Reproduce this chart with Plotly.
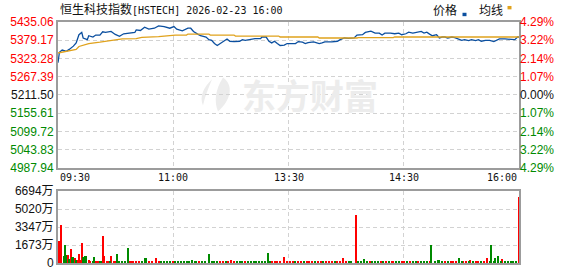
import plotly.graph_objects as go

# ---------------- data ----------------
title_name = "恒生科技指数"
title_code = "[HSTECH] 2026-02-23 16:00"
legend_price = "价格"
legend_avg = "均线"
watermark = "东方财富"

prev_close = 5211.50
price_ticks = [4987.94, 5043.83, 5099.72, 5155.61, 5211.50, 5267.39, 5323.28, 5379.17, 5435.06]
price_tick_text = ["4987.94", "5043.83", "5099.72", "5155.61", "5211.50", "5267.39", "5323.28", "5379.17", "5435.06"]
pct_tick_text = ["4.29%", "3.22%", "2.14%", "1.07%", "0.00%", "1.07%", "2.14%", "3.22%", "4.29%"]

vol_ticks = [0, 1673.5, 3347, 5020.5, 6694]
vol_tick_text = ["0", "1673万", "3347万", "5020万", "6694万"]

time_pos = [0, 82.5, 165, 247.5, 330]
time_labels = ["09:30", "11:00", "13:30", "14:30", "16:00"]

# minute index (0 = 09:30, 330 = 16:00) and index price
price_min = [0, 1, 3, 6, 8, 11, 13, 15, 17, 18, 21, 22, 25, 27, 30, 32, 34, 38, 41, 44, 47, 51, 55, 56,
             59, 62, 65, 69, 72, 76, 80, 83, 85, 89, 93, 95, 97, 100, 102, 106, 108, 110, 112, 114,
             116, 119, 121, 123, 126, 130, 132, 134, 138, 141, 145, 146, 149, 151, 153, 155, 157,
             159, 162, 164, 168, 170, 172, 175, 177, 179, 183, 187, 189, 191, 196, 200, 202, 205,
             208, 212, 214, 218, 220, 224, 227, 230, 232, 234, 238, 241, 244, 246, 249, 251, 254,
             258, 260, 262, 264, 266, 268, 271, 273, 275, 277, 279, 282, 284, 287, 289, 291, 294,
             296, 299, 301, 303, 306, 309, 312, 314, 316, 320, 324, 327, 329, 330]
price_val = [5310, 5342, 5349, 5345, 5351, 5361, 5371, 5396, 5403, 5386, 5381, 5393, 5389, 5395, 5395,
             5405, 5403, 5406, 5397, 5391, 5399, 5401, 5403, 5411, 5409, 5419, 5413, 5416, 5423, 5421,
             5416, 5421, 5413, 5408, 5416, 5416, 5406, 5398, 5393, 5389, 5381, 5379, 5369, 5363, 5369,
             5376, 5383, 5376, 5375, 5376, 5381, 5379, 5383, 5384, 5384, 5389, 5389, 5376, 5371, 5376,
             5369, 5363, 5364, 5369, 5369, 5369, 5375, 5373, 5369, 5372, 5374, 5369, 5371, 5374, 5374,
             5376, 5381, 5386, 5385, 5386, 5395, 5396, 5403, 5407, 5401, 5401, 5395, 5401, 5401, 5399,
             5401, 5396, 5399, 5404, 5401, 5404, 5406, 5401, 5404, 5398, 5393, 5396, 5386, 5389, 5389,
             5386, 5389, 5387, 5381, 5379, 5381, 5378, 5381, 5378, 5381, 5376, 5379, 5379, 5375, 5379,
             5383, 5383, 5381, 5381, 5389, 5389]

avg_min = [0, 4, 8, 13, 15, 20, 22, 30, 34, 40, 46, 56, 60, 72, 78, 84, 92, 93, 108, 109, 126, 127,
           158, 159, 186, 187, 214, 215, 240, 241, 330]
avg_val = [5340, 5343, 5347, 5351, 5360, 5366, 5369, 5373, 5376, 5380, 5383, 5384, 5388, 5390, 5392,
           5395, 5395, 5398, 5398, 5395, 5395, 5392, 5392, 5389, 5389, 5386, 5386, 5387, 5387, 5389, 5389]

# volume (万) of rising minutes (red)
up_min = [0, 1, 2, 7, 9, 12, 14, 15, 16, 17, 22, 23, 27, 28, 29, 32, 33, 35, 36, 38, 40, 41, 51, 52,
          54, 56, 58, 65, 67, 70, 72, 82, 101, 116, 118, 122, 124, 126, 134, 153, 155, 157, 159, 162,
          164, 166, 168, 172, 174, 178, 180, 182, 186, 188, 192, 194, 196, 200, 202, 204, 206, 213,
          223, 231, 235, 239, 240, 246, 248, 252, 258, 266, 277, 281, 283, 285, 290, 292, 295, 299,
          301, 305, 307, 318, 330]
up_vol = [1000, 2050, 3530, 720, 1300, 450, 300, 810, 300, 1900, 300, 200, 200, 120, 120, 2470, 660,
          120, 120, 660, 120, 120, 120, 120, 90, 120, 90, 120, 90, 450, 120, 90, 90, 120, 90, 90, 240,
          120, 120, 150, 90, 120, 90, 540, 120, 90, 120, 120, 90, 90, 120, 90, 90, 120, 120, 90, 120,
          120, 90, 450, 120, 4430, 120, 120, 180, 120, 180, 90, 120, 120, 90, 90, 120, 120, 90, 120,
          180, 120, 270, 90, 120, 120, 450, 360, 6150]

# volume (万) of falling minutes (green)
dn_min = [4, 5, 6, 8, 10, 11, 13, 18, 19, 20, 25, 26, 30, 31, 37, 42, 44, 46, 48, 50, 60, 62, 63, 74,
          76, 78, 80, 84, 86, 88, 90, 92, 94, 96, 98, 99, 103, 105, 108, 110, 112, 114, 120, 128, 130,
          132, 136, 138, 140, 142, 144, 146, 148, 150, 152, 170, 176, 184, 190, 198, 208, 210, 215,
          217, 219, 221, 225, 227, 229, 233, 237, 242, 244, 250, 254, 256, 260, 262, 264, 267, 270,
          272, 273, 275, 279, 287, 289, 294, 297, 303, 309, 310, 312, 313, 315, 317, 320, 322, 324,
          326, 328]
dn_vol = [660, 1660, 700, 360, 540, 540, 300, 540, 630, 630, 150, 540, 120, 120, 150, 810, 120, 120,
          120, 1360, 120, 450, 450, 90, 120, 90, 120, 120, 90, 120, 90, 120, 90, 240, 120, 180, 120,
          90, 810, 120, 90, 150, 120, 90, 120, 90, 90, 120, 90, 120, 90, 120, 90, 900, 120, 90, 120,
          120, 90, 90, 90, 120, 90, 120, 360, 90, 90, 120, 90, 90, 120, 90, 120, 90, 90, 120, 120, 90,
          120, 1630, 180, 270, 270, 180, 90, 450, 90, 90, 120, 90, 90, 1630, 120, 450, 630, 90, 120,
          90, 120, 90, 120]

# ---------------- styling ----------------
RED = "#ff0000"
GREEN = "#008a00"
DARK = "#111111"
BLUE = "#0b4f9f"
GOLD = "#e0a21c"
GRID = "#d2d2d2"
BORDER = "#9c9c9c"

W, H = 578, 276
ML, MR, MT, MB = 58, 59, 22, 6
PW, PH = W - ML - MR, H - MT - MB


def px_x(px):
    return (px - ML) / PW


def px_y(py):
    return (H - MB - py) / PH


main_dom = [px_y(172), 1.0]
vol_dom = [0.0, px_y(196)]


def col_for(v):
    if v > prev_close + 1e-6:
        return RED
    if v < prev_close - 1e-6:
        return GREEN
    return DARK


left_text = [f"<span style='color:{col_for(v)}'>{t}</span>" for v, t in zip(price_ticks, price_tick_text)]
right_text = [f"<span style='color:{col_for(v)}'>{t}</span>" for v, t in zip(price_ticks, pct_tick_text)]

fig = go.Figure()

fig.add_trace(go.Scatter(x=price_min, y=price_val, mode="lines", line=dict(color=BLUE, width=1.3),
                         xaxis="x", yaxis="y", hoverinfo="skip", showlegend=False))
fig.add_trace(go.Scatter(x=avg_min, y=avg_val, mode="lines", line=dict(color=GOLD, width=1.3),
                         xaxis="x", yaxis="y", hoverinfo="skip", showlegend=False))
# carrier for the right-hand percentage axis
fig.add_trace(go.Scatter(x=[price_min[0]], y=[prev_close], mode="markers", marker=dict(opacity=0),
                         xaxis="x", yaxis="y3", hoverinfo="skip", showlegend=False))

fig.add_trace(go.Bar(x=up_min, y=up_vol, marker=dict(color=RED, line=dict(width=0)), width=0.72,
                     xaxis="x2", yaxis="y2", hoverinfo="skip", showlegend=False))
fig.add_trace(go.Bar(x=dn_min, y=dn_vol, marker=dict(color=GREEN, line=dict(width=0)), width=0.72,
                     xaxis="x2", yaxis="y2", hoverinfo="skip", showlegend=False))

axis_common = dict(showline=True, mirror=True, linecolor=BORDER, linewidth=2, zeroline=False,
                   ticks="", showgrid=True, gridcolor=GRID, gridwidth=1, griddash="4px,3px")
label_font = dict(family="Liberation Sans, Arial, sans-serif", size=12, color=DARK)

fig.update_layout(
    width=W, height=H,
    margin=dict(l=ML, r=MR, t=MT, b=MB, pad=0),
    paper_bgcolor="white", plot_bgcolor="white",
    bargap=0, barmode="overlay",
    xaxis=dict(domain=[0, 1], range=[0, 330], anchor="y", tickvals=time_pos, showticklabels=False,
               **axis_common),
    xaxis2=dict(domain=[0, 1], range=[0, 330], anchor="y2", matches="x", tickvals=time_pos,
                showticklabels=False, **axis_common),
    yaxis=dict(domain=main_dom, range=[price_ticks[0], price_ticks[-1]], anchor="x",
               tickvals=price_ticks, ticktext=left_text, tickfont=label_font, **axis_common),
    yaxis3=dict(overlaying="y", side="right", anchor="x", range=[price_ticks[0], price_ticks[-1]],
                tickvals=price_ticks, ticktext=right_text, tickfont=label_font, showgrid=False,
                showline=False, zeroline=False, ticks=""),
    yaxis2=dict(domain=vol_dom, range=[0, vol_ticks[-1]], anchor="x2", tickvals=vol_ticks,
                ticktext=vol_tick_text,
                tickfont=dict(family="Liberation Sans, Noto Sans CJK SC, sans-serif", size=12, color=DARK),
                **axis_common),
)

annotations = []
# title
annotations.append(dict(
    xref="paper", yref="paper", x=0, y=px_y(8.5), xanchor="left", yanchor="middle", showarrow=False,
    text=(f"<span style='font-family:Noto Sans CJK SC;font-size:12px'>{title_name}</span>"
          f"<span style='font-family:DejaVu Sans Mono;font-size:10px'>{title_code}</span>"),
    font=dict(color=DARK, size=12, family="Noto Sans CJK SC")))
# legend texts
annotations.append(dict(xref="paper", yref="paper", x=px_x(431), y=px_y(9.5), xanchor="left",
                        yanchor="middle", showarrow=False, text=legend_price,
                        font=dict(family="Noto Sans CJK SC", size=12, color=DARK)))
annotations.append(dict(xref="paper", yref="paper", x=px_x(477), y=px_y(9.5), xanchor="left",
                        yanchor="middle", showarrow=False, text=legend_avg,
                        font=dict(family="Noto Sans CJK SC", size=12, color=DARK)))
# time labels
for i, (p, lab) in enumerate(zip(time_pos, time_labels)):
    anchor = "left" if i == 0 else ("right" if i == len(time_pos) - 1 else "center")
    annotations.append(dict(xref="x", yref="paper", x=p, y=px_y(182.5), xanchor=anchor,
                            yanchor="middle", showarrow=False, text=lab,
                            font=dict(family="DejaVu Sans Mono", size=10, color=DARK)))
# watermark
annotations.append(dict(xref="paper", yref="paper", x=px_x(310), y=px_y(97), xanchor="center",
                        yanchor="middle", showarrow=False, text=f"<b>{watermark}</b>",
                        font=dict(family="Noto Sans CJK SC", size=34, color="#ececec")))
fig.update_layout(annotations=annotations)


def rect(x0, y0, x1, y1, color):
    return dict(type="rect", xref="paper", yref="paper", x0=px_x(x0), x1=px_x(x1), y0=px_y(y1),
                y1=px_y(y0), fillcolor=color, line=dict(width=0), layer="above")


def path_px(points):
    s = ""
    for cmd, pts in points:
        s += cmd + " " + ", ".join(f"{px_x(a):.4f},{px_y(b):.4f}" for a, b in pts) + " "
    return s + "Z"


shapes = [
    rect(462.5, 12.5, 466.5, 16, BLUE),
    rect(507.5, 5.5, 511.5, 9, GOLD),
    dict(type="path", xref="paper", yref="paper", layer="below", fillcolor="#ececec", line=dict(width=0),
         path=path_px([("M", [(223, 79)]), ("C", [(234, 87), (231, 102), (218, 114)]),
                       ("C", [(214, 104), (215, 92), (223, 79)])])),
    dict(type="path", xref="paper", yref="paper", layer="below", fillcolor="#ececec", line=dict(width=0),
         path=path_px([("M", [(212, 81)]), ("C", [(204, 89), (199, 98), (203, 108)]),
                       ("C", [(205, 99), (208, 91), (212, 81)])])),
]
fig.update_layout(shapes=shapes)

fig.write_html("out.html")
